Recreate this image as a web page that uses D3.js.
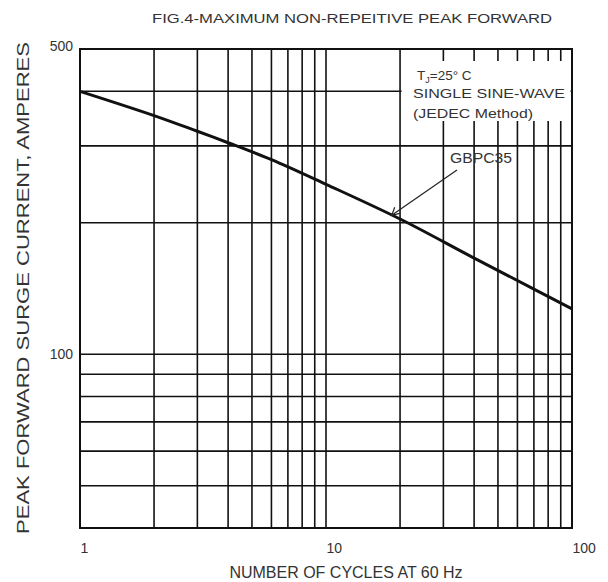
<!DOCTYPE html>
<html>
<head>
<meta charset="utf-8">
<script src="https://cdn.jsdelivr.net/npm/d3@7"></script>
<style>
  body { margin: 0; background: #fff; }
  text { font-family: "Liberation Sans", Arial, sans-serif; fill: #333; }
</style>
</head>
<body>
<div id="chart"></div>
<script>
// values
const cycles  = [1, 2, 3, 4, 6, 10, 20, 40, 70, 100];
const current = [400, 352, 324, 305, 279, 245, 204, 166, 141, 127];

const xGrid = [2, 3, 4, 5, 6, 7, 8, 9, 10, 20, 30, 40, 50, 60, 70, 80, 90];
const yGrid = [50, 60, 70, 80, 90, 100, 200, 300, 400];
const xTicks = [1, 10, 100];
const yTicks = [100, 500];

const W = 608, H = 582;
const plotL = 80, plotR = 572, plotT = 49, plotB = 528;

const svg = d3.select("#chart").append("svg")
  .attr("width", W)
  .attr("height", H);

// log scales on both axes
const x = d3.scaleLog().domain([1, 100]).range([plotL, plotR]);
const y = d3.scaleLog().domain([40, 500]).range([plotB, plotT]);

// grid
svg.append("g").selectAll("line")
  .data(xGrid)
  .join("line")
  .attr("x1", d => x(d)).attr("x2", d => x(d))
  .attr("y1", plotT).attr("y2", plotB)
  .attr("stroke", "#111")
  .attr("stroke-width", 1.6);

svg.append("g").selectAll("line")
  .data(yGrid)
  .join("line")
  .attr("x1", plotL).attr("x2", plotR)
  .attr("y1", d => y(d)).attr("y2", d => y(d))
  .attr("stroke", "#111")
  .attr("stroke-width", 1.6);

// white box behind the condition text
svg.append("rect")
  .attr("x", x(20) + 1.5)
  .attr("y", 61)
  .attr("width", plotR - x(20) - 3)
  .attr("height", 60)
  .attr("fill", "#fff");

// frame
svg.append("rect")
  .attr("x", plotL).attr("y", plotT)
  .attr("width", plotR - plotL).attr("height", plotB - plotT)
  .attr("fill", "none")
  .attr("stroke", "#111")
  .attr("stroke-width", 2);

// curve
const line = d3.line()
  .x((d, i) => x(cycles[i]))
  .y(d => y(d))
  .curve(d3.curveCatmullRom);

svg.append("path")
  .datum(current)
  .attr("d", line)
  .attr("fill", "none")
  .attr("stroke", "#111")
  .attr("stroke-width", 3);

// axes (labels only)
const xAxis = svg.append("g")
  .attr("transform", `translate(0,${plotB + 12})`)
  .call(d3.axisBottom(x).tickValues(xTicks).tickSize(0).tickFormat(d3.format("d")));
xAxis.select(".domain").remove();
xAxis.selectAll("text")
  .attr("text-anchor", "start")
  .attr("dx", 0)
  .attr("font-size", 14)
  .attr("font-family", "Liberation Sans, Arial, sans-serif")
  .attr("fill", "#333");

const yAxis = svg.append("g")
  .attr("transform", `translate(${plotL - 4},0)`)
  .call(d3.axisLeft(y).tickValues(yTicks).tickSize(0).tickFormat(d3.format("d")));
yAxis.select(".domain").remove();
yAxis.selectAll("text")
  .attr("font-size", 14)
  .attr("font-family", "Liberation Sans, Arial, sans-serif")
  .attr("fill", "#333");
yAxis.selectAll(".tick").filter(d => d === 500).select("text").attr("dy", "0.1em");

// title
svg.append("text")
  .attr("x", 152)
  .attr("y", 23)
  .attr("font-size", 12)
  .attr("textLength", 400)
  .attr("lengthAdjust", "spacingAndGlyphs")
  .text("FIG.4-MAXIMUM NON-REPEITIVE PEAK FORWARD");

// axis titles
svg.append("text")
  .attr("x", 346)
  .attr("y", 578)
  .attr("text-anchor", "middle")
  .attr("font-size", 16)
  .text("NUMBER OF CYCLES AT 60 Hz");

svg.append("text")
  .attr("transform", "rotate(-90)")
  .attr("x", -288)
  .attr("y", 29)
  .attr("text-anchor", "middle")
  .attr("font-size", 17)
  .attr("textLength", 492)
  .attr("lengthAdjust", "spacingAndGlyphs")
  .text("PEAK FORWARD SURGE CURRENT, AMPERES");

// conditions
const cond = svg.append("g").attr("font-size", 13.5);
const t1 = cond.append("text").attr("x", 417).attr("y", 80);
t1.append("tspan").text("T");
t1.append("tspan").attr("font-size", 9).attr("dy", 3).text("J");
t1.append("tspan").attr("dy", -3).text("=25° C");
cond.append("text").attr("x", 413).attr("y", 98)
  .attr("textLength", 152).attr("lengthAdjust", "spacingAndGlyphs")
  .text("SINGLE SINE-WAVE");
cond.append("text").attr("x", 413).attr("y", 118)
  .attr("textLength", 120).attr("lengthAdjust", "spacingAndGlyphs")
  .text("(JEDEC Method)");

// GBPC35 label with pointer
svg.append("text")
  .attr("x", 450)
  .attr("y", 163)
  .attr("font-size", 14)
  .attr("textLength", 62)
  .attr("lengthAdjust", "spacingAndGlyphs")
  .text("GBPC35");

const px = x(18.5), py = y(208);
svg.append("line")
  .attr("x1", 457).attr("y1", 170)
  .attr("x2", px).attr("y2", py)
  .attr("stroke", "#222")
  .attr("stroke-width", 1.2);
svg.append("path")
  .attr("d", `M${px + 8},${py - 2} L${px},${py} L${px + 3},${py - 8}`)
  .attr("fill", "none")
  .attr("stroke", "#222")
  .attr("stroke-width", 1.2);
</script>
</body>
</html>
